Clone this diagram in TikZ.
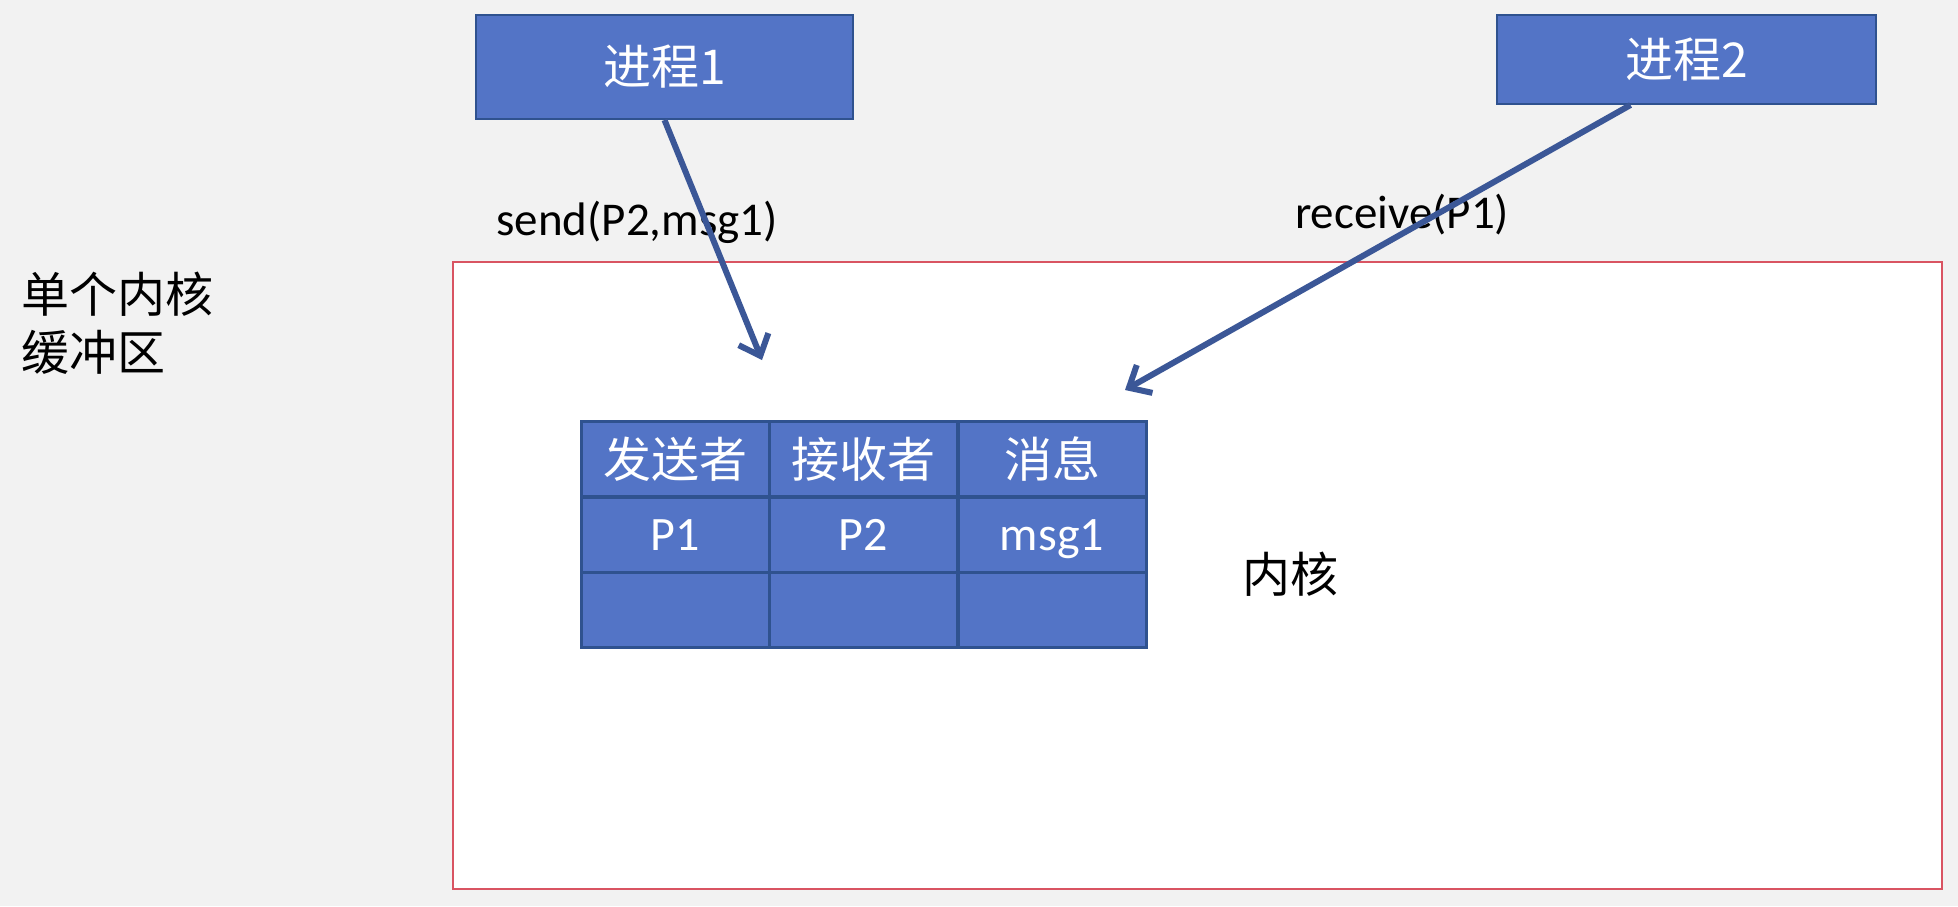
\documentclass[tikz,border=0pt]{standalone}
\usepackage{fontspec}
\setmainfont{Carlito}
\newfontfamily\cjk{Noto Sans CJK SC}
\usetikzlibrary{arrows.meta}
\definecolor{bg}{HTML}{F2F2F2}
\definecolor{boxfill}{HTML}{5374C6}
\definecolor{boxline}{HTML}{2F528F}
\definecolor{arrowc}{HTML}{3B5797}
\definecolor{kred}{HTML}{D95462}
\tikzset{
  procbox/.style={draw=boxline, line width=2pt, fill=boxfill, inner sep=0pt, text=white, font=\cjk\fontsize{48}{58}\selectfont},
  cellbox/.style={draw=boxline, line width=3pt, fill=boxfill, inner sep=0pt, minimum width=188pt, minimum height=75pt, text=white},
  cjkcell/.style={cellbox, font=\cjk\fontsize{48}{58}\selectfont},
  latcell/.style={cellbox, font=\fontsize{48}{58}\selectfont, text height=31pt, text depth=0pt},
  msgarrow/.style={draw=arrowc, line width=6pt, -{Straight Barb[length=18pt, width=32pt, line width=6pt]}},
  lbl/.style={inner sep=0pt, font=\fontsize{47}{56}\selectfont},
  cjklbl/.style={inner sep=0pt, font=\cjk\fontsize{48}{58}\selectfont, align=left}
}
\begin{document}
\begin{tikzpicture}[x=1pt, y=-1pt]
  \fill[bg] (0,0) rectangle (1958,906);
  \useasboundingbox (0,0) rectangle (1958,906);
  % kernel area
  \node[draw=kred, line width=2pt, fill=white, minimum width=1489pt, minimum height=627pt, inner sep=0pt] (kernel) at (1197.5,575.5) {};
  % processes
  \node[procbox, minimum width=377pt, minimum height=104pt] (p1) at (664.5,67) {进程1};
  \node[procbox, minimum width=379pt, minimum height=89pt] (p2) at (1686.5,59.5) {进程2};
  % table
  \node[cjkcell] (h1) at (675,459) {发送者};
  \node[cjkcell] (h2) at (863.5,459) {接收者};
  \node[cjkcell] (h3) at (1052,459) {消息};
  \node[latcell] (c1) at (675,534.5) {P1};
  \node[latcell] (c2) at (863.5,534.5) {P2};
  \node[latcell] (c3) at (1052,534.5) {msg1};
  \node[cellbox] (d1) at (675,609.5) {};
  \node[cellbox] (d2) at (863.5,609.5) {};
  \node[cellbox] (d3) at (1052,609.5) {};
  % labels
  \node[lbl] (sendl) at (637,222) {send(P2,msg1)};
  \node[lbl] (recvl) at (1402,215) {receive(P1)};
  \node[cjklbl, anchor=west] (buf) at (21,323) {单个内核\\缓冲区};
  \node[cjklbl] (kl) at (1290,574) {内核};
  % arrows
  \coordinate (a1) at (762,360);
  \coordinate (a2) at (1125,390);
  \draw[msgarrow] (p1.south) -- (a1);
  \draw[msgarrow] ([xshift=-56pt]p2.south) -- (a2);
\end{tikzpicture}
\end{document}
